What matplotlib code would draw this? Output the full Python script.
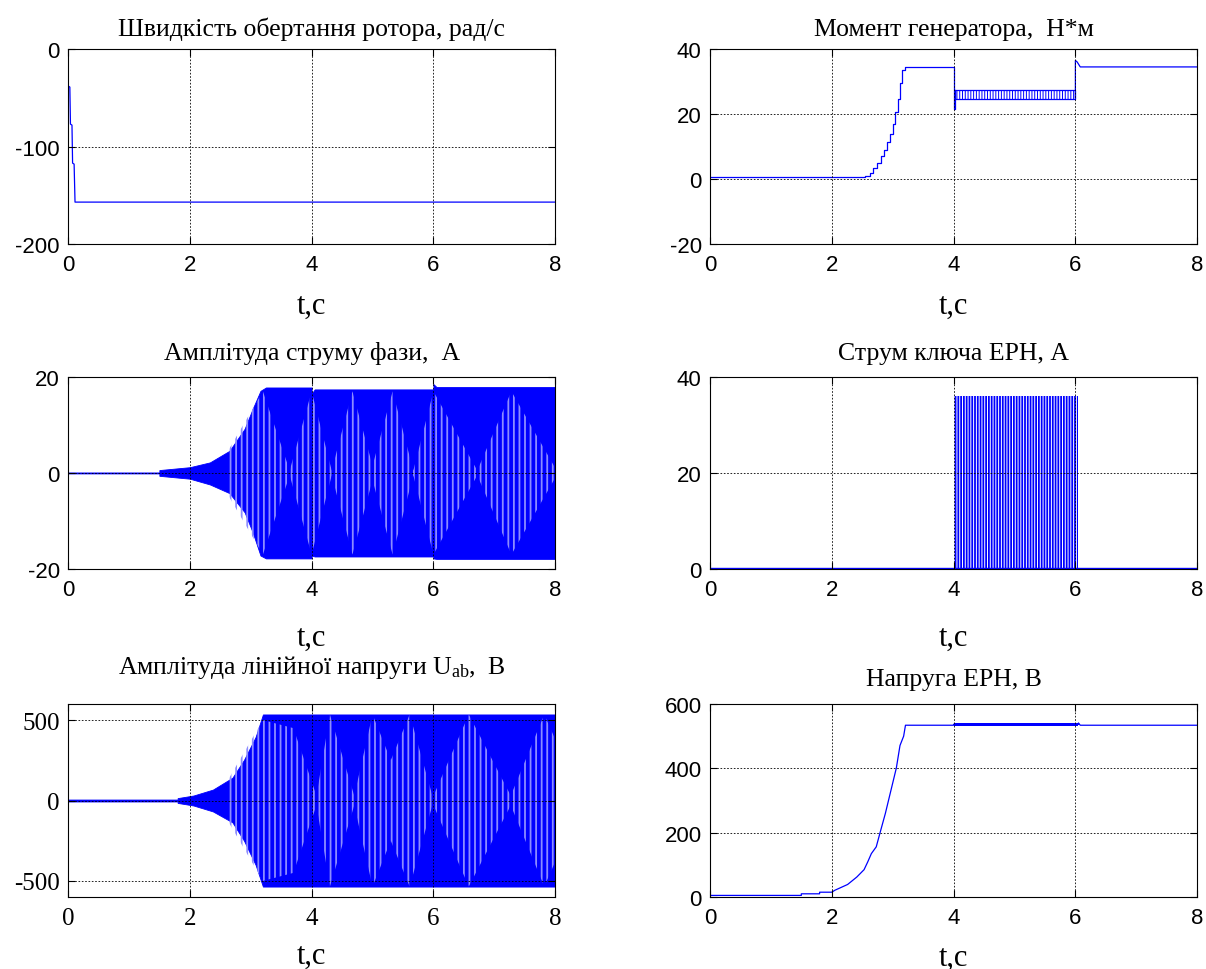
import matplotlib
matplotlib.use('Agg')
import matplotlib.pyplot as plt

plt.rcParams['font.family'] = 'Liberation Sans'
plt.rcParams['axes.unicode_minus'] = False
plt.rcParams['mathtext.fontset'] = 'custom'
plt.rcParams['mathtext.rm'] = 'Liberation Serif'
plt.rcParams['mathtext.it'] = 'Liberation Serif:italic'

BLUE = '#0000ff'
LIGHT = '#8c8cff'

# --- rotor speed, rad/s
speed_t = [0, 0.005, 0.03, 0.04, 0.065, 0.075, 0.1, 0.115, 8.0]
speed_w = [0, -38, -39, -77, -78, -117, -118, -157, -157]

# --- generator torque, N*m
torque_t1 = [0, 2.55, 2.62, 2.68, 2.74, 2.80, 2.85, 2.90, 2.95, 3.00, 3.04,
             3.08, 3.12, 3.16, 3.20, 4.00, 4.00, 4.03]
torque_m1 = [0.7, 0.9, 2.0, 3.4, 5.0, 7.0, 9.0, 11.5, 14.0, 17.0, 20.5,
             24.5, 29.5, 33.5, 34.5, 34.5, 21.5, 27.3]
ripple_t = [4.03, 6.0]
ripple_lo = [24.5, 24.5]
ripple_hi = [27.3, 27.3]
torque_t2 = [6.0, 6.0, 6.03, 6.08, 8.0]
torque_m2 = [25.0, 36.5, 36.0, 34.5, 34.5]

# --- phase current envelope, A
cur_t = [0, 1.5, 1.5, 2.0, 2.33, 2.65, 2.9, 3.03, 3.16, 3.25, 4.0, 4.0,
         4.05, 6.0, 6.0, 6.05, 8.0]
cur_hi = [0.1, 0.1, 0.6, 1.2, 2.2, 4.6, 9.2, 13.3, 17.1, 17.8, 17.8, 16.5,
          17.4, 17.4, 18.5, 17.9, 17.9]
cur_lo = [-0.1, -0.1, -0.6, -1.2, -2.4, -4.2, -8.2, -12.3, -17.2, -17.8,
          -17.8, -17.2, -17.4, -17.4, -17.8, -17.9, -17.9]
cur_beat_t = [2.6, 3.2, 3.64, 4.0, 4.33, 4.67, 5.0, 5.33, 5.67, 6.0, 6.72, 7.28, 8.0]
cur_beat_h = [4.0, 17.0, 0.5, 17.0, 0.5, 17.0, 1.5, 17.0, 0.5, 17.0, 0.5, 17.0, 1.0]

# --- key current of EPH, A
key_t = [4.0, 6.05]
key_peak = [36.0, 36.0]
key_base_t = [0, 8.0]
key_base = [0.2, 0.2]

# --- line voltage Uab envelope, V
volt_t = [0, 1.8, 1.8, 2.06, 2.38, 2.7, 2.89, 3.08, 3.2, 8.0]
volt_hi = [6, 6, 15, 31, 68, 142, 253, 395, 535, 535]
volt_lo = [-6, -6, -15, -31, -68, -136, -250, -400, -535, -535]
volt_beat_t = [2.6, 3.2, 3.7, 4.08, 4.3, 4.7, 5.0, 5.3, 5.61, 5.99, 6.58, 7.27, 7.82, 8.0]
volt_beat_h = [110, 500, 450, 30, 535, 30, 535, 250, 535, 20, 535, 30, 535, 380]

# --- EPH voltage, V
eph_t = [0, 1.5, 1.5, 1.8, 1.8, 2.0, 2.05, 2.26, 2.41, 2.53, 2.59, 2.65, 2.73,
         2.79, 2.88, 2.94, 3.0, 3.06, 3.12, 3.18, 3.21, 4.0, 4.0, 6.05, 6.05,
         6.08, 8.0]
eph_u = [5, 5, 10, 10, 15, 15, 21, 39, 62, 85, 109, 135, 156, 198, 260, 307,
         354, 401, 471, 500, 534, 534, 537, 537, 541, 534, 534]
eph_ripple_t = [4.0, 6.05]
eph_ripple_lo = [533, 533]
eph_ripple_hi = [540, 540]

xticks = [0, 2, 4, 6, 8]

fig = plt.figure(figsize=(12.06, 9.70), dpi=100)

L1, L2, W = 0.0564, 0.5887, 0.4040
rows = [(0.7474, 0.2010), (0.4124, 0.1980), (0.0742, 0.1990)]


def setup(ax, title, ylim, yticks, tick_family='Liberation Sans', tick_size=16,
          title_pad=10, xlabel_pad=12):
    ax.set_xlim(0, 8)
    ax.set_ylim(*ylim)
    ax.set_xticks(xticks)
    ax.set_yticks(yticks)
    ax.tick_params(direction='in', top=True, right=True, length=5, width=0.8,
                   labelsize=tick_size)
    ax.tick_params(axis='x', pad=7)
    ax.tick_params(axis='y', pad=6)
    for lab in ax.get_xticklabels() + ax.get_yticklabels():
        lab.set_family(tick_family)
    ax.grid(True, color='k', linestyle=(0, (2, 2)), linewidth=0.6)
    ax.set_axisbelow(False)
    for sp in ax.spines.values():
        sp.set_linewidth(0.8)
    ax.set_title(title, family='Liberation Serif', fontsize=18.5, pad=title_pad)
    ax.set_xlabel('t,c', family='Liberation Serif', fontsize=22, labelpad=xlabel_pad)


# speed
ax = fig.add_axes([L1, rows[0][0], W, rows[0][1]])
ax.plot(speed_t, speed_w, color=BLUE, lw=0.9)
setup(ax, 'Швидкість обертання ротора, рад/с', (-200, 0), [-200, -100, 0],
      xlabel_pad=11.5)

# torque
ax = fig.add_axes([L2, rows[0][0], W, rows[0][1]])
ax.plot(torque_t1, torque_m1, color=BLUE, lw=0.9, drawstyle='steps-post')
with plt.rc_context({'hatch.linewidth': 0.7}):
    ax.fill_between(ripple_t, ripple_lo, ripple_hi, facecolor='white',
                    edgecolor=BLUE, hatch='||||||', linewidth=0.9)
ax.plot(torque_t2, torque_m2, color=BLUE, lw=0.9)
setup(ax, 'Момент генератора,  Н*м', (-20, 40), [-20, 0, 20, 40],
      xlabel_pad=11.5)

# phase current
ax = fig.add_axes([L1, rows[1][0], W, rows[1][1]])
ax.fill_between(cur_t, cur_lo, cur_hi, color=BLUE, linewidth=0.6)
with plt.rc_context({'hatch.linewidth': 1.3}):
    ax.fill_between(cur_beat_t, [-h for h in cur_beat_h], cur_beat_h,
                    facecolor='none', edgecolor=LIGHT, hatch='|||', linewidth=0)
setup(ax, 'Амплітуда струму фази,  А', (-20, 20), [-20, 0, 20],
      title_pad=13, xlabel_pad=17)

# key current
ax = fig.add_axes([L2, rows[1][0], W, rows[1][1]])
ax.plot(key_base_t, key_base, color=BLUE, lw=1.0)
with plt.rc_context({'hatch.linewidth': 0.7}):
    ax.fill_between(key_t, 0, key_peak, facecolor=BLUE, edgecolor='white',
                    hatch='||||||', linewidth=0)
setup(ax, 'Струм ключа ЕРН, А', (0, 40), [0, 20, 40],
      title_pad=13, xlabel_pad=17)

# line voltage
ax = fig.add_axes([L1, rows[2][0], W, rows[2][1]])
ax.fill_between(volt_t, volt_lo, volt_hi, color=BLUE, linewidth=0.6)
with plt.rc_context({'hatch.linewidth': 1.3}):
    ax.fill_between(volt_beat_t, [-h for h in volt_beat_h], volt_beat_h,
                    facecolor='none', edgecolor=LIGHT, hatch='|||', linewidth=0)
setup(ax, 'Амплітуда лінійної напруги U$_{\\rm ab}$,  В', (-600, 600),
      [-500, 0, 500], tick_family='Liberation Serif', tick_size=18,
      title_pad=22, xlabel_pad=8.5)

# EPH voltage
ax = fig.add_axes([L2, rows[2][0], W, rows[2][1]])
ax.plot(eph_t, eph_u, color=BLUE, lw=0.9)
ax.fill_between(eph_ripple_t, eph_ripple_lo, eph_ripple_hi, color=BLUE, linewidth=0)
setup(ax, 'Напруга ЕРН, В', (0, 600), [0, 200, 400, 600],
      title_pad=14, xlabel_pad=10.5)

fig.savefig('out.png', dpi=100, facecolor='white')
